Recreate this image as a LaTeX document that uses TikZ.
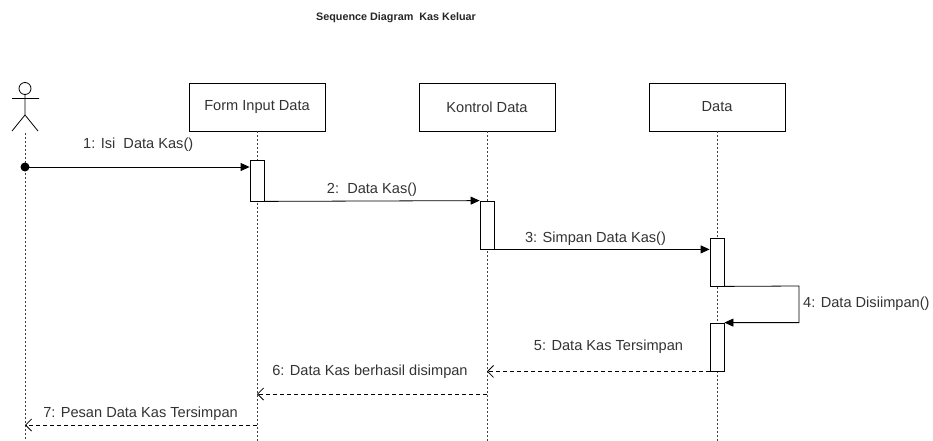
\documentclass[tikz,border=0pt]{standalone}
\usepackage{fontspec}
\setmainfont{Liberation Sans}
\usetikzlibrary{arrows.meta,calc}
\definecolor{txt}{HTML}{333333}
\tikzset{
  lbl/.style={font=\fontsize{14.6}{17}\selectfont, text=txt, inner sep=0pt},
  obj/.style={draw, line width=0.8pt, minimum width=136pt, minimum height=48pt, inner sep=0pt, font=\fontsize{14.6}{17}\selectfont, text=txt},
  act/.style={draw, fill=white, line width=0.8pt, minimum width=14pt, inner sep=0pt},
  life/.style={line width=0.8pt, dash pattern=on 2pt off 2pt, draw=black!75},
  msg/.style={line width=0.8pt, -{Triangle[length=9pt,width=8pt]}},
  ret/.style={line width=0.8pt, dash pattern=on 4pt off 3pt, -{Straight Barb[length=6pt,width=12pt]}},
}
\begin{document}
\begin{tikzpicture}[x=1pt,y=-1pt]
\useasboundingbox (0,0) rectangle (933,441);
% title
\node[font=\bfseries\fontsize{10.8}{13}\selectfont, text=black!85, inner sep=0pt] (title) at (396,18) {Sequence Diagram\ \ Kas Keluar};
% actor
\draw[line width=0.8pt] (25,88.5) circle (6);
\coordinate (neck) at (25,94.5);
\coordinate (hip) at (25,115);
\coordinate (armL) at (12,98.5);
\coordinate (armR) at (39,98.5);
\coordinate (legL) at (12,131);
\coordinate (legR) at (38,131);
\draw[line width=0.8pt] (neck) -- (hip) (armL) -- (armR) (legL) -- (hip) -- (legR);
\coordinate (actfoot) at (25,133);
\coordinate (actend) at (25,441);
% objects
\node[obj] (f) at (257,107) {Form Input Data};
\node[obj] (k) at (487,107) {Kontrol Data};
\node[obj] (d) at (717,107) {Data};
\coordinate (fend) at (257,441);
\coordinate (kend) at (487,441);
\coordinate (dend) at (717,441);
% lifelines
\draw[life] (actfoot) -- (actend);
\draw[life] (f.south) -- (fend);
\draw[life] (k.south) -- (kend);
\draw[life] (d.south) -- (dend);
% activations
\node[act, minimum height=41pt] (a1) at (257,180.5) {};
\node[act, minimum height=48pt] (a2) at (487,225) {};
\node[act, minimum height=48pt] (a3) at (717,262) {};
\node[act, minimum height=48pt] (a4) at (717,347) {};
% message 1
\node[circle, fill=black, inner sep=0pt, minimum size=9pt] (dot) at (25,167) {};
\draw[msg] (dot.center) -- (a1.west |- dot.center);
\node[lbl, anchor=west] (l1) at (83,145) {1: Isi\ \ Data Kas()};
% message 2
\draw[msg] (a1.south east) -- (a2.north west);
\node[lbl] (l2) at (372,190) {2:\ \ Data Kas()};
% message 3
\draw[msg] (a2.south east) -- (a3.west |- a2.south east);
\node[lbl] (l3) at (595.5,239) {3: Simpan Data Kas()};
% message 4 (self)
\coordinate (loopR) at (799,286);
\draw[msg] (a3.south east) -- (loopR) |- (a4.north east);
\node[lbl, anchor=west] (l4) at (803,304) {4: Data Disiimpan()};
% message 5
\draw[ret] (a4.south west) -- (k.south |- a4.south west);
\node[lbl] (l5) at (608.5,347) {5: Data Kas Tersimpan};
% message 6
\coordinate (r6) at (487,394);
\draw[ret] (r6) -- (f.south |- r6);
\node[lbl] (l6) at (370,372) {6: Data Kas berhasil disimpan};
% message 7
\coordinate (r7) at (257,425);
\draw[ret] (r7) -- (actfoot |- r7);
\node[lbl] (l7) at (140.5,414) {7: Pesan Data Kas Tersimpan};
\end{tikzpicture}
\end{document}
